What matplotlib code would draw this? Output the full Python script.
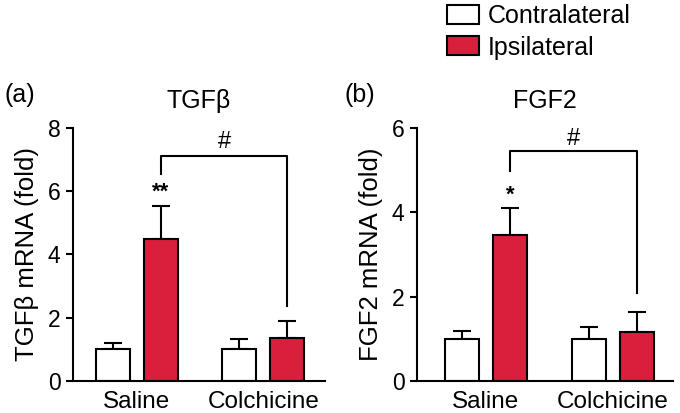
import matplotlib
matplotlib.use("Agg")
import matplotlib.pyplot as plt
import numpy as np

plt.rcParams['font.family'] = ['Liberation Sans', 'DejaVu Sans']

# data
groups = ['Saline', 'Colchicine']
series = ['Contralateral', 'Ipsilateral']

tgf_contra = [1.0, 1.0]
tgf_contra_err = [0.19, 0.34]
tgf_ipsi = [4.5, 1.35]
tgf_ipsi_err = [1.03, 0.55]

fgf_contra = [1.0, 1.0]
fgf_contra_err = [0.19, 0.28]
fgf_ipsi = [3.45, 1.15]
fgf_ipsi_err = [0.65, 0.49]

red = '#DA1F3C'
fig = plt.figure(figsize=(6.8, 4.13), dpi=100)

ax1 = fig.add_axes([0.1074, 0.0775, 0.3706, 0.6133])
ax2 = fig.add_axes([0.6132, 0.0775, 0.3765, 0.6133])

x = np.arange(len(groups))
off = 0.19
w = 0.27


def panel(ax, contra, contra_err, ipsi, ipsi_err, ymax, yt, ylabel, title, tag, tag_x,
          brk, star, star_y, hash_y, xlim):
    b1 = ax.bar(x - off, contra, w, color='white', edgecolor='black', linewidth=1.5, zorder=2)
    b2 = ax.bar(x + off, ipsi, w, color=red, edgecolor='black', linewidth=1.5, zorder=2)
    ax.errorbar(x - off, contra, yerr=[np.zeros(2), contra_err], fmt='none',
                ecolor='black', elinewidth=1.5, capsize=6.5, capthick=1.5, zorder=1)
    ax.errorbar(x + off, ipsi, yerr=[np.zeros(2), ipsi_err], fmt='none',
                ecolor='black', elinewidth=1.5, capsize=6.5, capthick=1.5, zorder=1)
    # significance bracket
    xl, xr = x[0] + off, x[1] + off
    ax.plot([xl, xl, xr, xr], [brk[0], brk[1], brk[1], brk[2]], color='black', lw=1.5,
            clip_on=False)
    ax.text((xl + xr) / 2, hash_y, '#', ha='center', va='center', fontsize=17)
    ax.text(xl, star_y, star, ha='center', va='center', fontsize=16, fontweight='bold')

    ax.set_ylim(0, ymax)
    ax.set_yticks(yt)
    ax.set_xlim(*xlim)
    ax.set_xticks(x)
    ax.set_xticklabels(groups, fontsize=17.5)
    ax.tick_params(axis='x', length=0, pad=7)
    ax.tick_params(axis='y', labelsize=16.5, width=1.5, length=5, pad=4)
    for s in ['top', 'right']:
        ax.spines[s].set_visible(False)
    for s in ['left', 'bottom']:
        ax.spines[s].set_linewidth(1.5)
    ax.set_ylabel(ylabel, fontsize=18.5, labelpad=6)
    ax.set_title(title, fontsize=18, pad=14)
    fig.text(tag_x, 1 - 95 / 413, tag, fontsize=18, va='center', ha='left')
    return b1, b2


b1, b2 = panel(ax1, tgf_contra, tgf_contra_err, tgf_ipsi, tgf_ipsi_err, 8, [0, 2, 4, 6, 8],
               'TGFβ mRNA (fold)', 'TGFβ', '(a)', 5 / 680, (6.55, 7.12, 2.37), '**', 5.95, 7.55,
               (-0.504, 1.489))
panel(ax2, fgf_contra, fgf_contra_err, fgf_ipsi, fgf_ipsi_err, 6, [0, 2, 4, 6],
      'FGF2 mRNA (fold)', 'FGF2', '(b)', 345 / 680, (4.97, 5.44, 2.09), '*', 4.39, 5.73,
      (-0.543, 1.472))

fig.legend([b1, b2], series, loc='upper left', bbox_to_anchor=(447 / 680, 1 - 4 / 413),
           frameon=False, fontsize=18, handlelength=1.28, handleheight=0.8,
           handletextpad=0.36, labelspacing=0.3, borderpad=0, borderaxespad=0)

fig.savefig('out.png', dpi=100)
